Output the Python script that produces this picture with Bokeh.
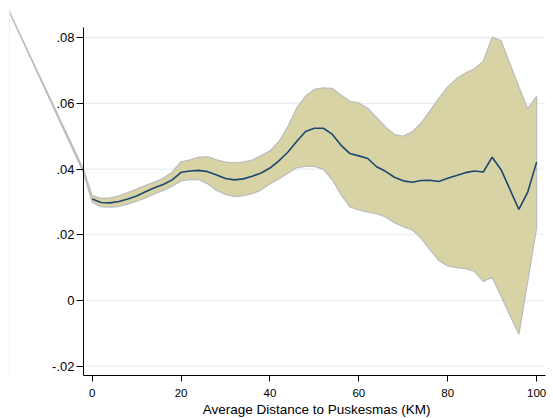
from bokeh.plotting import figure
from bokeh.models import Range1d, FixedTicker, Span, Title
from bokeh.embed import file_html
from bokeh.resources import INLINE

# ---- data ----
distance = [0, 2, 4, 6, 8, 10, 12, 14, 16, 18, 20, 22, 24, 26, 28, 30, 32, 34, 36, 38,
            40, 42, 44, 46, 48, 50, 52, 54, 56, 58, 60, 62, 64, 66, 68, 70, 72, 74, 76, 78,
            80, 82, 84, 86, 88, 90, 92, 94, 96, 98, 100]
mean_est = [0.0309, 0.0298, 0.0297, 0.0301, 0.0309, 0.0318, 0.0331, 0.0343, 0.0353, 0.0367,
            0.0390, 0.0394, 0.0396, 0.0392, 0.0382, 0.0371, 0.0367, 0.0370, 0.0378, 0.0388,
            0.0403, 0.0425, 0.0451, 0.0484, 0.0514, 0.0524, 0.0524, 0.0506, 0.0472, 0.0447,
            0.0440, 0.0432, 0.0407, 0.0393, 0.0375, 0.0364, 0.0360, 0.0365, 0.0366, 0.0362,
            0.0372, 0.0380, 0.0389, 0.0394, 0.0391, 0.0436, 0.0398, 0.0338, 0.0277, 0.0330,
            0.0421]
ci_upper = [0.0319, 0.0311, 0.0312, 0.0318, 0.0328, 0.0339, 0.0350, 0.0360, 0.0372, 0.0391,
            0.0422, 0.0428, 0.0436, 0.0437, 0.0428, 0.0421, 0.0419, 0.0421, 0.0427, 0.0441,
            0.0455, 0.0483, 0.0528, 0.0585, 0.0622, 0.0642, 0.0647, 0.0645, 0.0625, 0.0606,
            0.0601, 0.0585, 0.0556, 0.0528, 0.0505, 0.0500, 0.0513, 0.0540, 0.0577, 0.0615,
            0.0650, 0.0675, 0.0692, 0.0705, 0.0728, 0.0801, 0.0791, 0.0720, 0.0650, 0.0583,
            0.0621]
ci_lower = [0.0299, 0.0285, 0.0284, 0.0286, 0.0293, 0.0302, 0.0312, 0.0324, 0.0335, 0.0348,
            0.0364, 0.0368, 0.0368, 0.0355, 0.0335, 0.0323, 0.0316, 0.0319, 0.0325, 0.0336,
            0.0355, 0.0370, 0.0387, 0.0404, 0.0408, 0.0408, 0.0399, 0.0368, 0.0322, 0.0285,
            0.0276, 0.0269, 0.0264, 0.0254, 0.0237, 0.0225, 0.0215, 0.0190, 0.0155, 0.0122,
            0.0105, 0.0100, 0.0097, 0.0089, 0.0058, 0.0071, 0.0013, -0.0045, -0.0103, 0.0059,
            0.0221]
# band points left of the axis (spill outside the plot region in the original)
lead_distance = [-20, -2]
lead_upper = [0.0918, 0.0400]
lead_lower = [0.0918, 0.0390]

y_ticks = [-0.02, 0, 0.02, 0.04, 0.06, 0.08]
y_tick_labels = ["-.02", "0", ".02", ".04", ".06", ".08"]
x_ticks = [0, 20, 40, 60, 80, 100]
x_title = "Average Distance to Puskesmas (KM)"

# ---- layout constants ----
X_START, X_END = -18.61, 102.0
Y_START, Y_END = -0.02282, 0.08884
AXIS_X = -1.96
AXIS_Y_TOP = 0.0831
FONT = "Liberation Sans"

p = figure(frame_width=536, frame_height=367,
           x_range=Range1d(X_START, X_END), y_range=Range1d(Y_START, Y_END),
           output_backend="svg", toolbar_location=None,
           min_border_left=9, min_border_top=8, min_border_right=2, min_border_bottom=43)
p.outline_line_color = None
p.background_fill_color = "white"
p.border_fill_color = "white"
p.xgrid.visible = False
p.ygrid.visible = False

# faint outer border on the left
p.add_layout(Span(location=X_START, dimension="height", line_color="#E3EAEE", line_width=1))

# grid lines from the y axis to the right end
n = len(y_ticks)
p.segment(x0=[AXIS_X] * n, y0=y_ticks, x1=[X_END] * n, y1=y_ticks,
          line_color="#E6EDF1", line_width=1.2)

# confidence band
band_x = lead_distance + distance + distance[::-1] + lead_distance[::-1]
band_y = lead_upper + ci_upper + ci_lower[::-1] + lead_lower[::-1]
p.patch(band_x, band_y, fill_color="#D8D3A5", line_color="#BDBDBD", line_width=1.3)

# point estimate
p.line(distance, mean_est, line_color="#1A476F", line_width=1.6)

# y axis drawn at a fixed data location
yax = p.yaxis[0]
yax.fixed_location = AXIS_X
yax.bounds = (Y_START, AXIS_Y_TOP)
yax.ticker = FixedTicker(ticks=y_ticks, minor_ticks=[])
yax.major_label_overrides = {t: l for t, l in zip(y_ticks, y_tick_labels)}
yax.major_tick_out = 7
yax.major_tick_in = 0
yax.minor_tick_out = 0
yax.minor_tick_in = 0
yax.axis_line_color = "black"
yax.major_tick_line_color = "black"
yax.major_label_text_font = FONT
yax.major_label_text_font_size = "13px"
yax.major_label_text_color = "black"
yax.major_label_standoff = 2

xax = p.xaxis[0]
xax.bounds = (AXIS_X, X_END)
xax.ticker = FixedTicker(ticks=x_ticks, minor_ticks=[])
xax.major_tick_out = 6
xax.major_tick_in = 0
xax.minor_tick_out = 0
xax.minor_tick_in = 0
xax.axis_line_color = "black"
xax.major_tick_line_color = "black"
xax.major_label_text_font = FONT
xax.major_label_text_font_size = "11.5px"
xax.major_label_text_color = "black"
xax.major_label_standoff = 7

# axis title placed under the drawn axis line (right-aligned with an offset)
p.add_layout(Title(text=x_title, align="right", offset=115, standoff=0,
                   text_font=FONT, text_font_size="13.5px", text_font_style="normal",
                   text_color="black"), "below")

open("out.html", "w").write(file_html(p, INLINE))
